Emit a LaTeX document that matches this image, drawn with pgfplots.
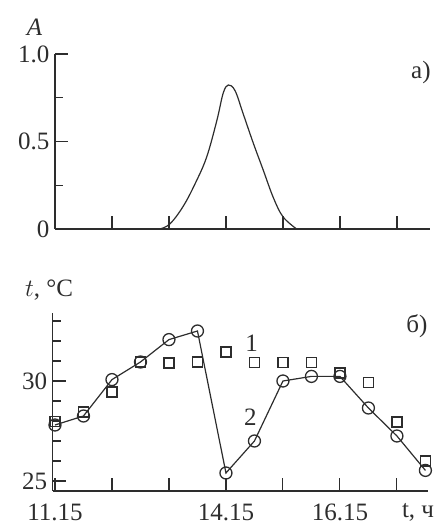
\documentclass[border=0pt]{standalone}
\usepackage{fontspec}
\setmainfont{Liberation Serif}
\usepackage{pgfplots}
\pgfplotsset{compat=1.18}
\definecolor{ink}{RGB}{45,45,45}
\newcommand{\labfont}{\fontsize{25}{29}\selectfont}

\pgfplotsset{
  panel/.style={
    scale only axis, clip=false,
    axis lines*=left,
    axis line style={ink, line width=1.1pt},
    tick align=inside,
    major tick length=13pt, minor tick length=8pt,
    every tick/.style={ink, line width=1.1pt},
    /pgf/number format/assume math mode=true,
    tick label style={font=\labfont, text=ink},
    yticklabel style={xshift=-2pt},
    xticklabel style={yshift=-9pt},
  }
}

\begin{document}
\begin{tikzpicture}
\useasboundingbox (0,0) rectangle (442pt,525pt);

% a) impulse
\begin{axis}[panel,
  at={(55pt,296pt)}, anchor=south west,
  width=375pt, height=175pt,
  xmin=0, xmax=6.58, ymin=0, ymax=1.0,
  xtick={1,...,6}, xticklabels={},
  ytick={0,0.5,1.0}, yticklabels={0,0.5,1.0},
  minor ytick={0.25,0.75},
]
\addplot[ink, line width=1.2pt, smooth, tension=0.6] coordinates {
  (1.84,0) (2.02,0.03) (2.25,0.13) (2.46,0.26) (2.66,0.41) (2.84,0.62)
  (2.95,0.775) (3.04,0.823) (3.16,0.79) (3.30,0.66) (3.48,0.49)
  (3.65,0.34) (3.83,0.18) (4.0,0.07) (4.24,0)
};
\node[text=ink, font=\labfont\itshape] at (axis cs:-0.36,1.15) {A};
\node[text=ink, font=\labfont] at (axis cs:6.42,0.897) {a)};
\end{axis}

% b) temperature
\begin{axis}[panel,
  at={(52.7pt,34pt)}, anchor=south west,
  width=375pt, height=178pt,
  xmin=-0.04, xmax=6.54, ymin=24.5, ymax=33.4,
  xtick={0,...,6}, xticklabels={11.15,,,14.15,,16.15,},
  ytick={25,30}, minor ytick={26,27,28,29,31,32,33},
]
\addplot[ink, line width=1.3pt, only marks, mark=square, mark size=5pt,
  mark options={fill=white}] coordinates {
  (0,27.98) (0.5,28.45) (1,29.45) (1.5,30.95) (2,30.9) (2.5,30.95) (3,31.45)
  (3.5,30.92) (4,30.92) (4.5,30.92) (5,30.4) (5.5,29.92) (6,27.95) (6.5,26.0)
};
\addplot[ink, line width=1.2pt, mark=o, mark size=6pt,
  mark options={fill=white, line width=1.3pt}] coordinates {
  (0,27.8) (0.5,28.25) (1,30.07) (1.5,30.95) (2,32.07) (2.5,32.5) (3,25.4)
  (3.5,27.0) (4,30.0) (4.5,30.23) (5,30.23) (5.5,28.65) (6,27.25) (6.5,25.53)
};
\node[text=ink, font=\labfont] at (axis cs:-0.105,34.55) {$t$, °C};
\node[text=ink, font=\labfont] at (axis cs:6.35,32.75) {б)};
\node[text=ink, font=\labfont] at (axis cs:3.45,31.9) {1};
\node[text=ink, font=\labfont] at (axis cs:3.43,28.2) {2};
\node[text=ink, font=\labfont] at (axis cs:6.37,23.45) {t, ч};
\end{axis}
\end{tikzpicture}
\end{document}
